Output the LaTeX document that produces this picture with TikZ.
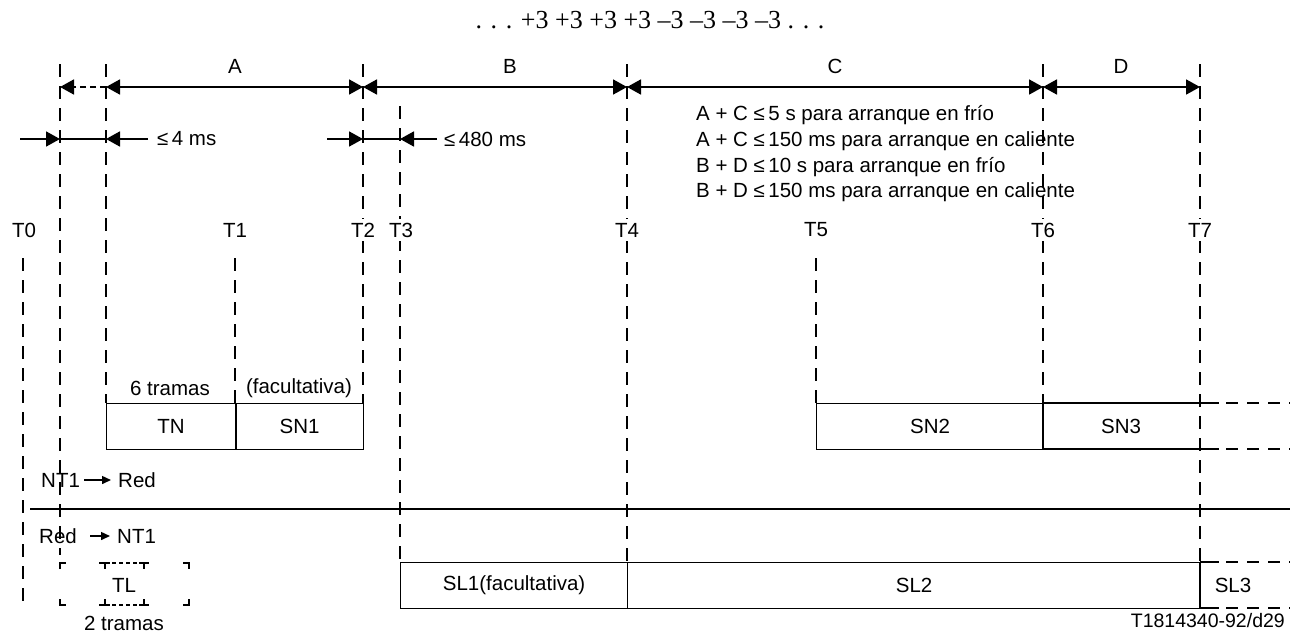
\documentclass[tikz,border=0pt]{standalone}
\usepackage{fontspec}
\setmainfont{Liberation Sans}
\newfontfamily\titlefont{Liberation Serif}
\usetikzlibrary{arrows.meta}
\begin{document}
\begin{tikzpicture}[x=1pt,y=-1pt,
  font=\fontsize{20.5}{24}\selectfont,
  vline/.style={line width=1.8pt, dash pattern=on 13pt off 9pt},
  dim/.style={line width=1.8pt},
  bigtip/.style={-{Triangle[length=14pt,width=15pt]}},
  bothtip/.style={{Triangle[length=14pt,width=15pt]}-{Triangle[length=14pt,width=15pt]}},
  boxline/.style={line width=1.2pt},
  ext/.style={line width=1.8pt, dash pattern=on 12pt off 9pt},
  divider/.style={line width=1.7pt},
  smallarrow/.style={line width=1.5pt, -{Triangle[length=9pt,width=8pt]}},
  tlab/.style={fill=white, inner sep=4pt},
  lab/.style={inner sep=2pt},
  tlmark/.style={line width=1.2pt},
]
\useasboundingbox (0,0) rectangle (1297,632);

% ---------- vertical dashed time lines ----------
\coordinate (v0a) at (23,258);   \coordinate (v0b) at (23,607);
\coordinate (v60a) at (60,64);   \coordinate (v60b) at (60,555);
\coordinate (v106a) at (106,64); \coordinate (v106b) at (106,403);
\coordinate (v1a) at (235,258);  \coordinate (v1b) at (235,403);
\coordinate (v2a) at (363,64);   \coordinate (v2b) at (363,403);
\coordinate (v3a) at (400,106);  \coordinate (v3b) at (400,562);
\coordinate (v4a) at (627,64);   \coordinate (v4b) at (627,562);
\coordinate (v5a) at (816,258);  \coordinate (v5b) at (816,403);
\coordinate (v6a) at (1043,64);  \coordinate (v6b) at (1043,403);
\coordinate (v7a) at (1200,64);  \coordinate (v7b) at (1200,562);
\foreach \p in {v0,v60,v106,v1,v2,v3,v4,v5,v6,v7}
  \draw[vline] (\p a) -- (\p b);

% ---------- title ----------
\node[font=\titlefont\fontsize{26}{30}\selectfont] (title) at (650,20)
  {. . . +3 +3 +3 +3 –3 –3 –3 –3 . . .};

% ---------- dimension row 1 ----------
\coordinate (a60) at (60,87);
\coordinate (a106) at (106,87);
\coordinate (a363) at (363,87);
\coordinate (a627) at (627,87);
\coordinate (a1043) at (1043,87);
\coordinate (a1200) at (1200,87);
\draw[dim, bigtip, dash pattern=on 6pt off 4pt] (a106) -- (a60);
\draw[dim, bothtip] (a106) -- (a363);
\draw[dim, bothtip] (a363) -- (a627);
\draw[dim, bothtip] (a627) -- (a1043);
\draw[dim, bothtip] (a1043) -- (a1200);
\node[lab] (labA) at (235,66) {A};
\node[lab] (labB) at (510,66) {B};
\node[lab] (labC) at (835,66) {C};
\node[lab] (labD) at (1121,66) {D};

% ---------- dimension row 2 ----------
\coordinate (b20) at (20,139);
\coordinate (b60) at (60,139);
\coordinate (b106) at (106,139);
\coordinate (b148) at (148,139);
\coordinate (b327) at (327,139);
\coordinate (b363) at (363,139);
\coordinate (b400) at (400,139);
\coordinate (b437) at (437,139);
\draw[dim, bigtip] (b20) -- (b60);
\draw[dim] (b60) -- (b106);
\draw[dim, bigtip] (b148) -- (b106);
\draw[dim, bigtip] (b327) -- (b363);
\draw[dim] (b363) -- (b400);
\draw[dim, bigtip] (b437) -- (b400);
\node[lab, anchor=west] (le4) at (155,139) {≤\,4 ms};
\node[lab, anchor=west] (le480) at (442,139) {≤\,480 ms};

% ---------- conditions ----------
\node[lab, anchor=west] (c1) at (694,115) {A + C ≤\,5 s para arranque en frío};
\node[lab, anchor=west] (c2) at (694,141) {A + C ≤\,150 ms para arranque en caliente};
\node[lab, anchor=west] (c3) at (694,167) {B + D ≤\,10 s para arranque en frío};
\node[lab, anchor=west] (c4) at (694,192) {B + D ≤\,150 ms para arranque en caliente};

% ---------- time labels ----------
\node[tlab] (T0) at (24,230) {T0};
\node[tlab] (T1) at (235,230) {T1};
\node[tlab] (T2) at (363,230) {T2};
\node[tlab] (T3) at (401,230) {T3};
\node[tlab] (T4) at (627,230) {T4};
\node[tlab] (T5) at (816,230) {T5};
\node[tlab] (T6) at (1043,230) {T6};
\node[tlab] (T7) at (1200,230) {T7};

% ---------- NT1 -> Red boxes ----------
\node[lab] (seis) at (170,388) {6 tramas};
\node[lab] (facu) at (299,388) {(facultativa)};
\node[draw, boxline, anchor=north west, minimum width=129pt, minimum height=46pt, inner sep=0pt] (TN) at (106,403) {TN};
\node[draw, boxline, anchor=north west, minimum width=128pt, minimum height=46pt, inner sep=0pt] (SN1) at (235,403) {SN1};
\node[draw, boxline, anchor=north west, minimum width=227pt, minimum height=46pt, inner sep=0pt] (SN2) at (816,403) {SN2};
\draw[divider] (TN.north east) -- (TN.south east);
\node[inner sep=0pt] (SN3) at (1121,426) {SN3};
\coordinate (sn3tl) at (1043,403); \coordinate (sn3tr) at (1219,403);
\coordinate (sn3bl) at (1043,449); \coordinate (sn3br) at (1219,449);
\coordinate (sn3te) at (1290,403); \coordinate (sn3be) at (1290,449);
\draw[boxline] (sn3tl) -- (sn3tr);
\draw[boxline] (sn3bl) -- (sn3br);
\draw[divider] (sn3tl) -- (sn3bl);
\draw[ext] ([xshift=7pt]sn3tr) -- (sn3te);
\draw[ext] ([xshift=7pt]sn3br) -- (sn3be);

\node[lab, anchor=west] (nt1a) at (39,480) {NT1};
\node[lab, anchor=west] (reda) at (116,480) {Red};
\draw[smallarrow, shorten <=2pt, shorten >=5pt] (nt1a) -- (reda);

% ---------- separator ----------
\coordinate (sepL) at (30,509);
\coordinate (sepR) at (1290,509);
\draw[line width=1.8pt] (sepL) -- (sepR);

% ---------- Red -> NT1 ----------
\node[lab, anchor=west] (redb) at (37,536) {Red};
\node[lab, anchor=west] (nt1b) at (115,536) {NT1};
\draw[smallarrow, shorten <=11pt, shorten >=5pt] (redb) -- (nt1b);

% TL marks
\draw[tlmark] (60,569) -- (60,563) -- (66,563);
\draw[tlmark] (183,563) -- (189,563) -- (189,569);
\draw[tlmark] (60,599) -- (60,605) -- (66,605);
\draw[tlmark] (183,605) -- (189,605) -- (189,599);
\draw[tlmark] (99,563) -- (110,563) (105,563) -- (105,569);
\draw[tlmark] (139,563) -- (149,563) (144,563) -- (144,569);
\draw[tlmark] (99,605) -- (110,605) (105,605) -- (105,599);
\draw[tlmark] (139,605) -- (149,605) (144,605) -- (144,599);
\draw[tlmark, dash pattern=on 4pt off 3pt] (112,563) -- (138,563);
\draw[tlmark, dash pattern=on 4pt off 3pt] (112,605) -- (138,605);
\node[lab] (TL) at (124,585) {TL};
\node[lab] (dos) at (124,623) {2 tramas};

\node[draw, boxline, anchor=north west, minimum width=227pt, minimum height=46pt, inner sep=0pt] (SL1) at (400,562) {SL1(facultativa)};
\node[draw, boxline, anchor=north west, minimum width=573pt, minimum height=46pt, inner sep=0pt] (SL2) at (627,562) {SL2};
\node[inner sep=0pt] (SL3) at (1233,585) {SL3};
\coordinate (sl3tl) at (1200,562); \coordinate (sl3tr) at (1219,562);
\coordinate (sl3bl) at (1200,608); \coordinate (sl3br) at (1219,608);
\coordinate (sl3te) at (1290,562); \coordinate (sl3be) at (1290,608);
\draw[boxline] (sl3tl) -- (sl3tr);
\draw[boxline] (sl3bl) -- (sl3br);
\draw[divider] (sl3tl) -- (sl3bl);
\draw[ext] ([xshift=7pt]sl3tr) -- (sl3te);
\draw[ext] ([xshift=7pt]sl3br) -- (sl3be);

\node[lab, anchor=east, font=\fontsize{19.5}{22}\selectfont] (ref) at (1287,621) {T1814340-92/d29};
\end{tikzpicture}
\end{document}
